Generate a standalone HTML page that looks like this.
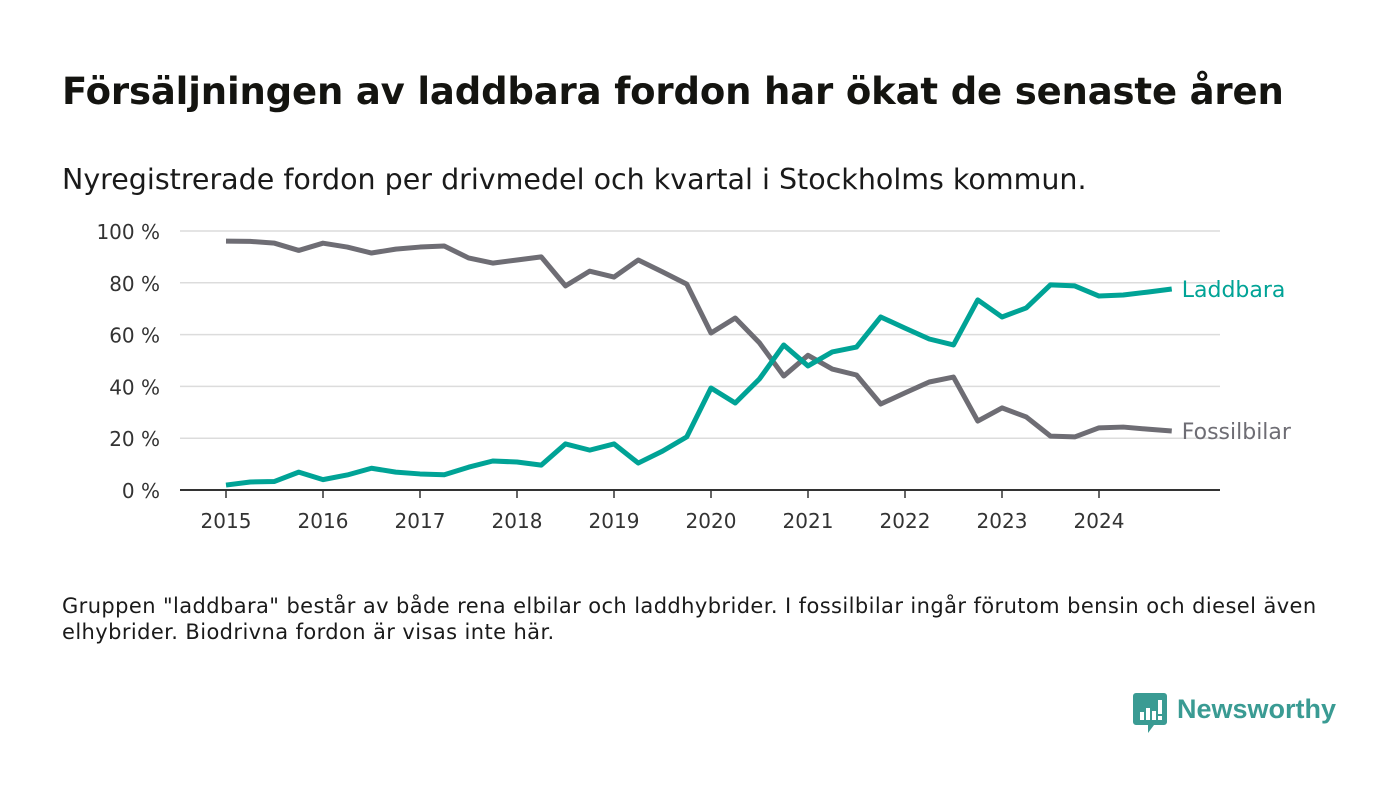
<!DOCTYPE html>
<html><head><meta charset="utf-8"><style>
body{margin:0;width:1400px;height:793px;background:#fff;font-family:"DejaVu Sans","Liberation Sans",sans-serif;overflow:hidden}
.t{position:absolute;left:62px;top:70px;font-size:37px;font-weight:bold;color:#141410;letter-spacing:-0.15px;white-space:nowrap}
.s{position:absolute;left:62px;top:163px;font-size:28.5px;color:#1a1a1a;white-space:nowrap;letter-spacing:0px}
.n{position:absolute;left:62px;top:593px;font-size:21px;line-height:26px;color:#1a1a1a;width:1290px;letter-spacing:0.4px}
svg{position:absolute;left:0;top:0}
</style></head><body>
<div class="t">Försäljningen av laddbara fordon har ökat de senaste åren</div>
<div class="s">Nyregistrerade fordon per drivmedel och kvartal i Stockholms kommun.</div>
<div class="n">Gruppen "laddbara" består av både rena elbilar och laddhybrider. I fossilbilar ingår förutom bensin och diesel även elhybrider. Biodrivna fordon är visas inte här.</div>
<svg width="1400" height="793" id="chart"></svg>
<div style="position:absolute;left:1133px;top:693px;display:flex;align-items:center">
<svg width="34" height="42" style="position:static"><path d="M0 3a3 3 0 0 1 3-3h28a3 3 0 0 1 3 3v26a3 3 0 0 1-3 3H21l-6 8v-8H3a3 3 0 0 1-3-3z" fill="#3a9b93"/><rect x="7" y="19" width="4" height="8" fill="#fff"/><rect x="13" y="15" width="4" height="12" fill="#fff"/><rect x="19" y="18" width="4" height="9" fill="#fff"/><rect x="25" y="7" width="4" height="14" fill="#fff"/><rect x="25" y="23" width="4" height="4" fill="#fff"/></svg>
<span style="margin-left:10px;font-family:'Liberation Sans',sans-serif;font-weight:bold;font-size:27px;color:#3a9b93;margin-top:-10px">Newsworthy</span></div>
<script>
const years=[2015,2016,2017,2018,2019,2020,2021,2022,2023,2024];
const yTicks=[0,20,40,60,80,100];
const laddbara=[1.9,3.1,3.3,6.9,4,5.8,8.4,6.9,6.2,5.9,8.8,11.2,10.8,9.6,17.8,15.4,17.8,10.4,15,20.5,39.4,33.6,42.9,56,47.9,53.3,55.2,66.8,62.5,58.3,56,73.4,66.8,70.3,79.2,78.8,74.9,75.3,76.4,77.6];
const fossil=[96.1,96,95.3,92.5,95.3,93.8,91.5,93,93.8,94.2,89.6,87.6,88.8,90,78.8,84.5,82.2,88.8,84.2,79.5,60.6,66.4,56.8,44,52,46.7,44.4,33.2,37.5,41.7,43.6,26.6,31.7,28.2,20.8,20.5,24,24.3,23.5,22.8];
const svg=document.getElementById('chart'),NS='http://www.w3.org/2000/svg';
const X=i=>226+i*24.25, Y=v=>490-v*2.59;
function mk(t,a){const e=document.createElementNS(NS,t);for(const k in a)e.setAttribute(k,a[k]);svg.appendChild(e);return e;}
yTicks.forEach(v=>{
 if(v>0){const g=mk('line',{x1:180,x2:1220,y1:Y(v),y2:Y(v),stroke:'#dcdcdc','stroke-width':1.5});
 
 }
 const t=mk('text',{x:160,y:Y(v)+8,'text-anchor':'end','font-size':20,fill:'#333','font-family':'DejaVu Sans,Liberation Sans,sans-serif'});
 t.textContent=v+' %';
 
 
});
const ax=mk('line',{x1:180,x2:1220,y1:490,y2:490,stroke:'#333','stroke-width':2});


years.forEach((y,i)=>{
 const x=X(i*4);
 const tk=mk('line',{x1:x,x2:x,y1:490,y2:498,stroke:'#333','stroke-width':1.5});
 
 
 const t=mk('text',{x:x,y:528,'text-anchor':'middle','font-size':20,fill:'#333','font-family':'DejaVu Sans,Liberation Sans,sans-serif'});
 t.textContent=y;
 
 
});
function line(d,c,name,label){
 const p=mk('polyline',{points:d.map((v,i)=>X(i)+','+Y(v)).join(' '),fill:'none',stroke:c,'stroke-width':5,'stroke-linejoin':'round'});
 
 
 const t=mk('text',{x:X(d.length-1)+10,y:Y(d[d.length-1])+8,'font-size':22,fill:c,'font-family':'DejaVu Sans,Liberation Sans,sans-serif'});
 t.textContent=label;
 
 
}
line(fossil,'#6e6d74','fossilbilar-line','Fossilbilar');
line(laddbara,'#00a396','laddbara-line','Laddbara');
</script>
</body></html>
